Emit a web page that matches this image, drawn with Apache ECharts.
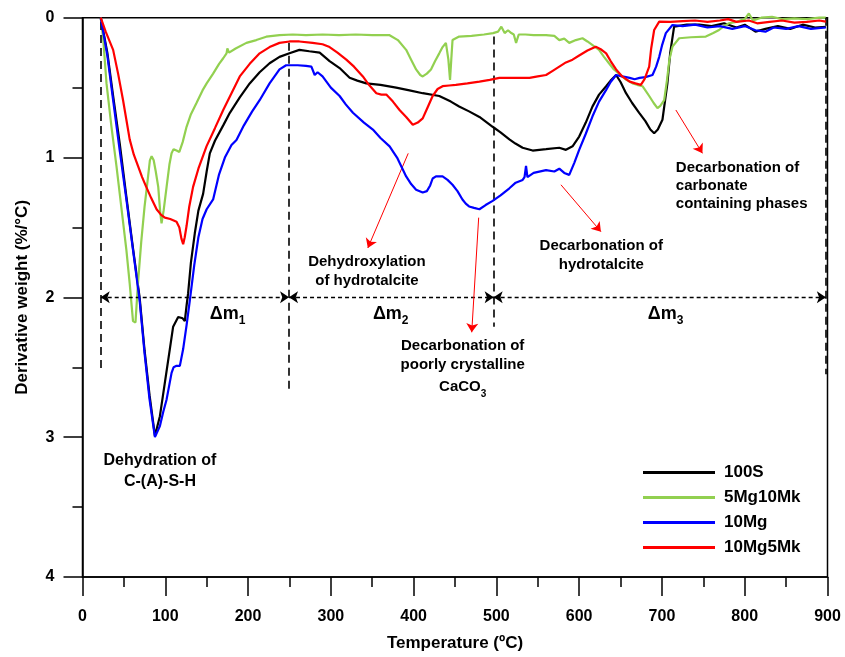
<!DOCTYPE html>
<html>
<head>
<meta charset="utf-8">
<script src="https://cdn.jsdelivr.net/npm/echarts@6/dist/echarts.min.js"></script>
<style>
  html, body { margin: 0; padding: 0; background: #fff; }
  #chart { width: 845px; height: 657px; }
</style>
</head>
<body>
<div id="chart"></div>
<script>
// DTG curves, [temperature (°C), derivative weight (%/°C)]
const s100S = [[22,0],[30,0.25],[37,0.56],[45,0.9],[53,1.28],[61,1.65],[69,2.0],[75,2.38],[81,2.7],[87.5,2.99],
  [93.5,2.85],[99.5,2.61],[105.5,2.37],[109.5,2.21],[115.6,2.14],[121,2.15],[123.6,2.17],[125.7,2.06],[127.6,1.97],[131,1.75],
  [135.7,1.54],[140,1.38],[145.7,1.26],[150,1.1],[153.8,0.97],[160,0.88],[170,0.77],[178,0.68],[190,0.57],[202,0.47],
  [214,0.39],[226,0.326],[238,0.28],[250,0.254],[262,0.23],[274,0.24],[286.5,0.25],[298.5,0.31],[310.6,0.36],[322.7,0.43],
  [332,0.45],[342.8,0.47],[360,0.48],[378.9,0.5],[395,0.52],[411,0.54],[431,0.56],[445,0.6],[455,0.635],[467,0.67],
  [479.5,0.71],[495.5,0.78],[505,0.82],[515.7,0.87],[523,0.9],[531.7,0.93],[543.8,0.95],[560,0.94],[576,0.93],[584,0.945],
  [592,0.92],[600,0.85],[608,0.75],[616,0.636],[624,0.55],[632.6,0.49],[638,0.45],[644.6,0.41],[650,0.46],[656.6,0.54],
  [664,0.61],[672.5,0.68],[680,0.74],[686,0.8],[690.6,0.826],[695,0.8],[700.6,0.73],[706.6,0.47],[710,0.25],[714.7,0.064],
  [730,0.05],[745,0.05],[760,0.06],[775,0.04],[790,0.07],[800,0.05],[813,0.1],[825,0.08],[840,0.06],[855,0.08],
  [870,0.05],[885,0.07],[898,0.065]];

const s5Mg10Mk = [[22,0],[25,0.15],[29,0.47],[35,0.78],[41,1.06],[47,1.36],[53,1.66],[57,1.9],[61,2.17],[64,2.18],
  [67,1.9],[71,1.6],[75,1.35],[78,1.2],[81.4,1.02],[83.5,0.99],[86,1.02],[88.5,1.1],[91.5,1.21],[94,1.4],
  [95.5,1.47],[98,1.38],[101.6,1.21],[105,1.05],[107.6,0.97],[110,0.94],[113.6,0.95],[117,0.96],[121,0.89],[125.7,0.78],
  [131,0.69],[137.7,0.61],[145,0.52],[150,0.47],[157.8,0.4],[165,0.33],[170,0.29],[174,0.255],[175,0.22],[177,0.25],
  [185,0.22],[198,0.18],[210,0.16],[222,0.136],[238,0.124],[254,0.12],[270,0.125],[290,0.12],[310,0.125],[330,0.12],
  [350,0.125],[371,0.125],[381,0.16],[391,0.23],[397,0.3],[403,0.37],[408,0.41],[411,0.42],[416,0.4],[421,0.37],
  [426,0.31],[431,0.255],[435,0.21],[439,0.18],[441,0.17],[442,0.3],[444,0.445],[445.5,0.3],[447,0.16],[455,0.135],
  [470,0.13],[485,0.12],[496,0.11],[502,0.1],[506,0.064],[510,0.11],[514,0.09],[518,0.11],[521,0.12],[523.8,0.18],
  [527,0.12],[535,0.12],[545,0.125],[560,0.124],[570,0.13],[576,0.16],[582,0.15],[588,0.18],[596,0.16],[604,0.147],
  [610,0.17],[617,0.2],[624,0.23],[630,0.28],[636,0.326],[642,0.37],[648,0.4],[656,0.44],[664.5,0.47],[670,0.48],
  [676.5,0.49],[680,0.52],[684.6,0.56],[690,0.61],[694.6,0.647],[698,0.63],[702.7,0.59],[706,0.45],[709,0.3],[712.7,0.207],
  [720.8,0.147],[735,0.14],[753,0.135],[762,0.11],[769,0.088],[775,0.06],[781,0.04],[790,0.03],[800,0.01],[805,-0.03],
  [810,0.02],[820,0.0],[833,-0.007],[845,0.01],[860,0.005],[875,0.01],[890,0.0],[898,0.0]];

const s10Mg = [[22,0],[30,0.27],[37,0.59],[45,0.95],[53,1.3],[61,1.66],[69,2.02],[75,2.4],[81,2.73],[87.5,3.0],
  [93.5,2.92],[97.5,2.82],[101.6,2.73],[107.6,2.54],[110,2.5],[113.6,2.49],[117.6,2.49],[121.6,2.37],[125.7,2.2],[129.7,2.02],
  [135,1.77],[140,1.57],[145,1.44],[150,1.37],[157.8,1.3],[165,1.12],[172,1.0],[180,0.91],[186,0.874],[195,0.77],
  [205,0.67],[214,0.59],[226,0.47],[238,0.37],[246,0.34],[260,0.34],[270,0.345],[276.5,0.35],[280.5,0.41],[284,0.39],
  [290,0.42],[300,0.5],[310.6,0.56],[318,0.62],[326.7,0.68],[340,0.75],[350.8,0.8],[360,0.86],[371,0.92],[380,1.0],
  [391,1.135],[397,1.19],[403,1.23],[411,1.25],[416,1.24],[420,1.2],[423,1.15],[427,1.135],[435,1.135],[441,1.16],
  [447,1.195],[453,1.24],[459,1.3],[463,1.33],[467,1.35],[473,1.36],[479.5,1.37],[487,1.34],[495.5,1.31],[505,1.27],
  [515.7,1.22],[523.3,1.18],[531.7,1.16],[534,1.14],[535.8,1.06],[537.5,1.14],[545,1.11],[560,1.09],[570,1.1],[576,1.08],
  [582,1.11],[588,1.124],[594,1.04],[600,0.945],[608,0.83],[616,0.707],[624,0.6],[632.6,0.516],[638,0.46],[644.6,0.41],
  [652,0.42],[661,0.43],[667,0.44],[673,0.43],[680,0.425],[688.6,0.41],[693,0.35],[696.7,0.28],[700,0.2],[704.7,0.11],
  [712.7,0.052],[725,0.06],[740,0.05],[755,0.07],[770,0.06],[785,0.08],[800,0.06],[813,0.09],[825,0.1],[835,0.07],
  [850,0.08],[865,0.06],[880,0.08],[898,0.07]];

const s10Mg5Mk = [[22,0],[28,0.1],[37,0.23],[43,0.4],[49,0.59],[53,0.73],[57,0.87],[62,0.98],[67,1.06],[72,1.14],
  [77,1.21],[83,1.29],[89.5,1.37],[95,1.41],[99.5,1.43],[106,1.44],[113.6,1.46],[117,1.5],[119.5,1.58],[121.6,1.62],
  [123.5,1.57],[125.7,1.49],[129,1.35],[133.6,1.21],[140,1.08],[149.8,0.92],[160,0.79],[170,0.66],[180,0.54],[190,0.42],
  [202,0.33],[214,0.255],[226,0.21],[238,0.18],[250,0.17],[262,0.17],[278,0.18],[290,0.19],[298.5,0.21],[308,0.25],
  [318.7,0.3],[328,0.35],[338.7,0.42],[346,0.48],[355,0.54],[361,0.55],[367,0.55],[375,0.6],[383,0.66],[391,0.71],
  [399,0.766],[405,0.75],[411,0.72],[417,0.64],[423,0.56],[429,0.51],[435,0.49],[443,0.485],[451,0.48],[465,0.47],
  [479.5,0.457],[492,0.445],[503.6,0.43],[520,0.43],[540,0.43],[550,0.42],[560,0.41],[568,0.38],[576,0.35],[584,0.32],
  [592,0.3],[600,0.27],[610,0.235],[620,0.207],[626,0.225],[632.6,0.255],[638,0.31],[644.6,0.37],[652,0.42],[661,0.457],
  [668,0.47],[674.5,0.48],[679,0.44],[684.6,0.35],[687,0.22],[690.6,0.088],[696.7,0.028],[710,0.03],[725,0.025],[740,0.02],
  [755,0.03],[770,0.02],[780,0.01],[790,0.03],[805,0.02],[815,0.04],[830,0.03],[845,0.02],[860,0.035],[875,0.03],
  [890,0.02],[898,0.028]];

const seriesNames = ['100S', '5Mg10Mk', '10Mg', '10Mg5Mk'];
const seriesColors = ['#000000', '#92d050', '#0000ff', '#ff0000'];

// region borders (dashed verticals) and the Δm spans
const dividerT = [22, 249.5, 496.7, 898];
const dividerTop = [0.03, 0.18, 0.135, 0.0];
const dividerBottom = [2.54, 2.67, 2.21, 2.55];
const spanLevel = 2.0;
const spanLabels = ['1', '2', '3'];
const spanLabelT = [153.8, 350.8, 683];

// notes and their red arrows
const noteText = [
  'Dehydration of\nC-(A)-S-H',
  'Dehydroxylation\nof hydrotalcite',
  'Decarbonation of\npoorly crystalline\nCaCO{s|3}',
  'Decarbonation of\nhydrotalcite',
  'Decarbonation of\ncarbonate\ncontaining phases'
];
const noteT = [93.6, 343.6, 459.3, 626.7, 716.8];
const noteD = [3.245, 1.817, 2.504, 1.70, 1.2];
const arrowFrom = [[393.5, 0.97], [478.6, 1.43], [578, 1.195], [716.8, 0.66]];
const arrowTo = [[344.7, 1.647], [470.2, 2.25], [626.3, 1.53], [748.9, 0.97]];

const FONT = '"Liberation Sans", Arial, sans-serif';

const chart = echarts.init(document.getElementById('chart'));

const lineSeries = seriesNames.map((name, i) => ({
  name: name,
  type: 'line',
  data: [s100S, s5Mg10Mk, s10Mg, s10Mg5Mk][i],
  showSymbol: false,
  symbol: 'none',
  clip: false,
  color: seriesColors[i],
  lineStyle: { width: 2.2, color: seriesColors[i] },
  z: 3 + i
}));

const markLines = [];
dividerT.forEach((t, i) => {
  markLines.push([
    { coord: [t, dividerTop[i]], lineStyle: { type: [8, 5], width: 1.6, color: '#000' } },
    { coord: [t, dividerBottom[i]] }
  ]);
});
for (let i = 0; i < 3; i++) {
  markLines.push([
    { coord: [dividerT[i], spanLevel], symbol: 'arrow', lineStyle: { type: [4, 3], width: 1.4, color: '#000' } },
    { coord: [dividerT[i + 1], spanLevel], symbol: 'arrow' }
  ]);
}
arrowFrom.forEach((p, i) => {
  markLines.push([
    { coord: p, symbol: 'none', lineStyle: { type: 'solid', width: 1, color: '#ff0000' } },
    { coord: arrowTo[i], symbol: 'arrow' }
  ]);
});

const noteData = noteT.map((t, i) => ({
  value: [t, noteD[i]],
  label: {
    formatter: noteText[i],
    align: i === 4 ? 'left' : 'center',
    fontSize: i === 0 ? 16 : 15,
    lineHeight: i === 0 ? 21 : (i === 4 ? 18 : 19)
  }
}));

const spanData = spanLabelT.map((t, i) => ({
  value: [t, spanLevel + 0.12],
  label: { formatter: '{m|Δm}{s|' + spanLabels[i] + '}' }
}));

const axisFont = { fontFamily: FONT, fontSize: 16, fontWeight: 'bold', color: '#000' };
const nameFont = { fontFamily: FONT, fontSize: 17, fontWeight: 'bold', color: '#000' };

const option = {
  animation: false,
  backgroundColor: '#fff',
  textStyle: { fontFamily: FONT },
  grid: {
    left: 82.5, right: 17.5, top: 17.7, bottom: 79,
    show: true, borderColor: '#000', borderWidth: 1.5, backgroundColor: 'transparent'
  },
  legend: {
    data: seriesNames,
    orient: 'vertical',
    left: 643, top: 464,
    padding: 0,
    itemWidth: 72, itemHeight: 14, itemGap: 8,
    icon: 'path://M0,0 L72,0 L72,3 L0,3 Z',
    textStyle: { fontFamily: FONT, fontSize: 17, fontWeight: 'bold', color: '#000', padding: [0, 0, 0, 4] }
  },
  xAxis: {
    type: 'value',
    position: 'bottom',
    min: 0, max: 900, interval: 100,
    name: 'Temperature (ºC)',
    nameLocation: 'middle',
    nameGap: 58,
    nameTextStyle: nameFont,
    axisLine: { show: true, onZero: false, lineStyle: { color: '#000', width: 1.5 } },
    axisTick: { show: true, inside: false, length: 19, lineStyle: { color: '#000', width: 1.5 } },
    minorTick: { show: true, splitNumber: 2, length: 10, lineStyle: { color: '#000', width: 1.5 } },
    axisLabel: Object.assign({ margin: 32 }, axisFont),
    splitLine: { show: false }
  },
  yAxis: {
    type: 'value',
    inverse: true,
    min: 0, max: 4, interval: 1,
    name: 'Derivative weight (%/°C)',
    nameLocation: 'middle',
    nameGap: 52,
    nameTextStyle: nameFont,
    axisLine: { show: true, onZero: false, lineStyle: { color: '#000', width: 1.5 } },
    axisTick: { show: true, inside: false, length: 19, lineStyle: { color: '#000', width: 1.5 } },
    minorTick: { show: true, splitNumber: 2, length: 10, lineStyle: { color: '#000', width: 1.5 } },
    axisLabel: Object.assign({ margin: 28 }, axisFont),
    splitLine: { show: false }
  },
  series: lineSeries.concat([
    {
      name: 'notes',
      type: 'scatter',
      data: noteData,
      symbolSize: 0,
      itemStyle: { opacity: 1 },
      silent: true,
      z: 10,
      label: {
        show: true,
        position: [0, 0],
        verticalAlign: 'middle',
        fontFamily: FONT,
        fontWeight: 'bold',
        color: '#000',
        rich: {
          s: { fontFamily: FONT, fontWeight: 'bold', fontSize: 10, color: '#000', verticalAlign: 'bottom', lineHeight: 24 }
        }
      },
      markLine: {
        silent: true,
        symbol: ['none', 'none'],
        symbolSize: [9, 9],
        label: { show: false },
        emphasis: { disabled: true },
        data: markLines
      }
    },
    {
      name: 'spans',
      type: 'scatter',
      data: spanData,
      symbolSize: 0,
      itemStyle: { opacity: 1 },
      silent: true,
      z: 10,
      label: {
        show: true,
        position: [0, 0],
        align: 'left',
        verticalAlign: 'middle',
        rich: {
          m: { fontFamily: FONT, fontWeight: 'bold', fontSize: 18, color: '#000', lineHeight: 26, verticalAlign: 'middle' },
          s: { fontFamily: FONT, fontWeight: 'bold', fontSize: 12, color: '#000', lineHeight: 26, verticalAlign: 'bottom' }
        }
      }
    }
  ])
};

chart.setOption(option);
</script>
</body>
</html>
